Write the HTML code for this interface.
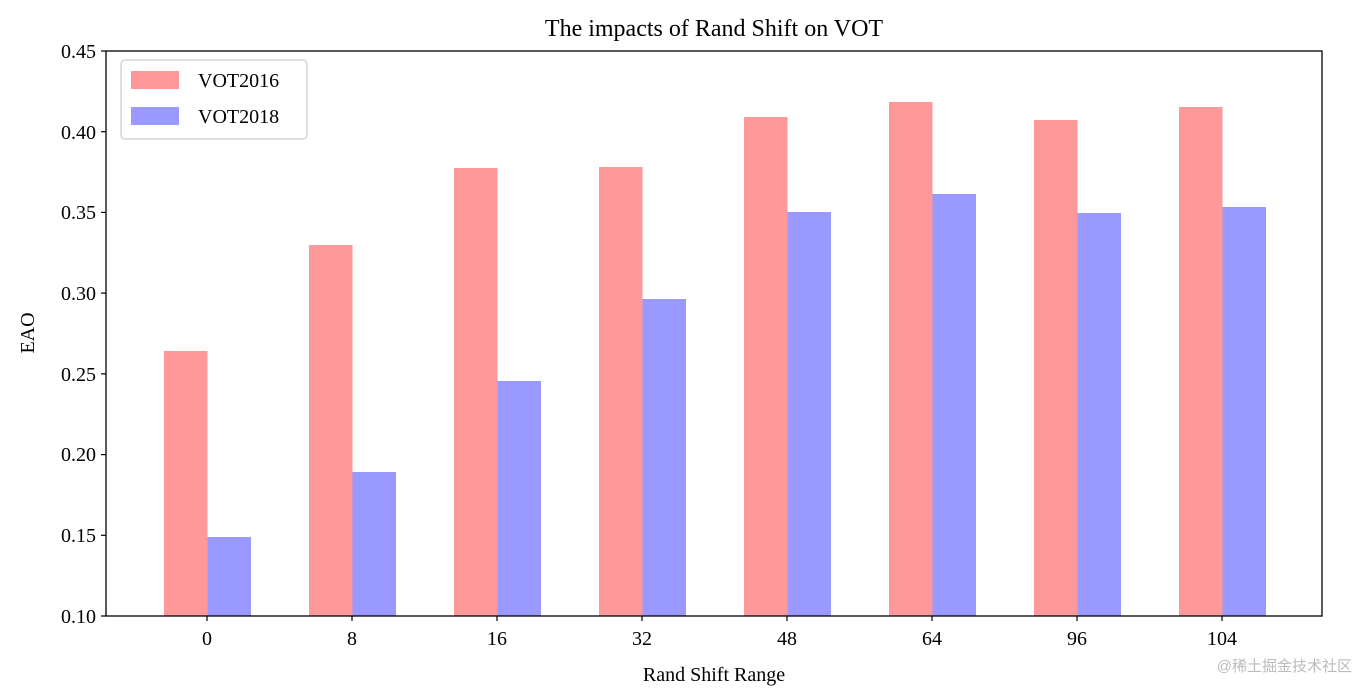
<!DOCTYPE html>
<html><head><meta charset="utf-8"><style>body{margin:0;background:#fff}svg{display:block}text{font-family:"Liberation Serif",serif;fill:#000}</style></head>
<body>
<svg width="1372" height="698" viewBox="0 0 1372 698" xmlns="http://www.w3.org/2000/svg">
<rect width="1372" height="698" fill="#fff"/>
<g fill="#ff9999">
<rect x="164" y="351" width="43.5" height="265"/>
<rect x="309" y="245" width="43.5" height="371"/>
<rect x="454" y="168" width="43.5" height="448"/>
<rect x="599" y="167" width="43.5" height="449"/>
<rect x="744" y="117" width="43.5" height="499"/>
<rect x="889" y="102" width="43.5" height="514"/>
<rect x="1034" y="120" width="43.5" height="496"/>
<rect x="1179" y="107" width="43.5" height="509"/>
</g>
<g fill="#9999ff">
<rect x="207.5" y="537" width="43.5" height="79"/>
<rect x="352.5" y="472" width="43.5" height="144"/>
<rect x="497.5" y="381" width="43.5" height="235"/>
<rect x="642.5" y="299" width="43.5" height="317"/>
<rect x="787.5" y="212" width="43.5" height="404"/>
<rect x="932.5" y="194" width="43.5" height="422"/>
<rect x="1077.5" y="213" width="43.5" height="403"/>
<rect x="1222.5" y="207" width="43.5" height="409"/>
</g>
<rect x="106" y="51" width="1216" height="565" fill="none" stroke="#000" stroke-width="1.3"/>
<g stroke="#000" stroke-width="1.2">
<line x1="101" x2="106" y1="616" y2="616"/><line x1="101" x2="106" y1="535.3" y2="535.3"/><line x1="101" x2="106" y1="454.6" y2="454.6"/><line x1="101" x2="106" y1="373.9" y2="373.9"/><line x1="101" x2="106" y1="293.1" y2="293.1"/><line x1="101" x2="106" y1="212.4" y2="212.4"/><line x1="101" x2="106" y1="131.7" y2="131.7"/><line x1="101" x2="106" y1="51" y2="51"/>
<line x1="207" x2="207" y1="616" y2="621"/><line x1="352" x2="352" y1="616" y2="621"/><line x1="497" x2="497" y1="616" y2="621"/><line x1="642" x2="642" y1="616" y2="621"/><line x1="787" x2="787" y1="616" y2="621"/><line x1="932" x2="932" y1="616" y2="621"/><line x1="1077" x2="1077" y1="616" y2="621"/><line x1="1222" x2="1222" y1="616" y2="621"/>
</g>
<g font-size="20" text-anchor="end">
<text x="96" y="623">0.10</text><text x="96" y="542">0.15</text><text x="96" y="461">0.20</text><text x="96" y="381">0.25</text><text x="96" y="300">0.30</text><text x="96" y="219">0.35</text><text x="96" y="139">0.40</text><text x="96" y="58">0.45</text>
</g>
<g font-size="20" text-anchor="middle">
<text x="207" y="645">0</text><text x="352" y="645">8</text><text x="497" y="645">16</text><text x="642" y="645">32</text><text x="787" y="645">48</text><text x="932" y="645">64</text><text x="1077" y="645">96</text><text x="1222" y="645">104</text>
<text x="714" y="681">Rand Shift Range</text>
<text x="714" y="36" font-size="24">The impacts of Rand Shift on VOT</text>
<text transform="translate(34,333) rotate(-90)">EAO</text>
</g>
<rect x="121" y="60" width="186" height="79" rx="4" fill="#fff" stroke="#ccc" stroke-width="1.2"/>
<rect x="131" y="71" width="48" height="18" fill="#ff9999"/>
<rect x="131" y="107" width="48" height="18" fill="#9999ff"/>
<text x="198" y="87" font-size="20">VOT2016</text>
<text x="198" y="123" font-size="20">VOT2018</text>
<text x="1352" y="671" font-size="15" text-anchor="end" fill="#bbb" style="fill:#bbb;font-family:'Liberation Sans','Noto Sans CJK SC',sans-serif">@稀土掘金技术社区</text>
</svg>
</body></html>
